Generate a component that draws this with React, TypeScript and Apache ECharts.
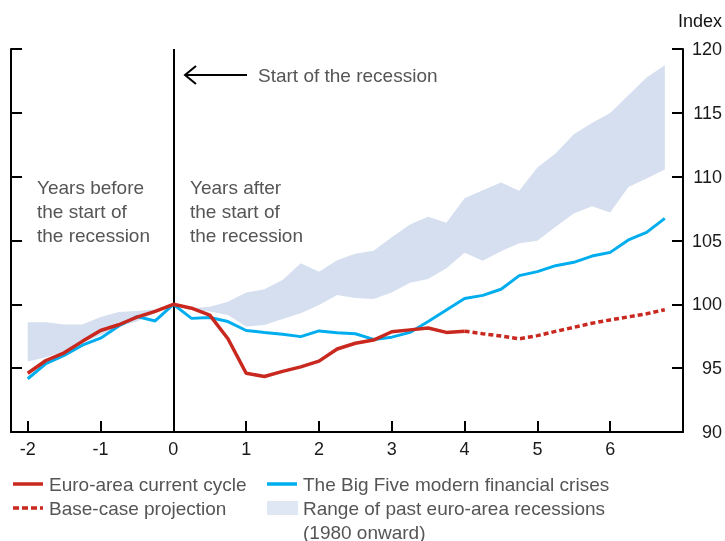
import React, { useEffect, useRef } from 'react';
import * as echarts from 'echarts';

const quarters = [-2, -1.75, -1.5, -1.25, -1, -0.75, -0.5, -0.25, 0, 0.25, 0.5, 0.75, 1, 1.25, 1.5, 1.75, 2, 2.25, 2.5, 2.75, 3, 3.25, 3.5, 3.75, 4, 4.25, 4.5, 4.75, 5, 5.25, 5.5, 5.75, 6, 6.25, 6.5, 6.75];

const xTickValues = [-2, -1, 0, 1, 2, 3, 4, 5, 6];

// Euro-area current cycle, -2 .. 4
const euroActual = [94.6, 95.6, 96.2, 97.1, 97.95, 98.4, 99.0, 99.45, 100, 99.7, 99.15, 97.3, 94.6, 94.35, 94.75, 95.1, 95.55, 96.5, 96.95, 97.2, 97.85, 98.0, 98.15, 97.8, 97.9];
// Base-case projection, 4 .. 6.75
const projection = [97.9, 97.7, 97.52, 97.3, 97.55, 97.88, 98.2, 98.52, 98.78, 99.02, 99.26, 99.58];
// The Big Five modern financial crises
const bigFive = [94.17, 95.35, 96.0, 96.8, 97.35, 98.3, 99.05, 98.7, 100, 98.9, 98.97, 98.65, 97.95, 97.8, 97.66, 97.47, 97.92, 97.78, 97.7, 97.25, 97.43, 97.8, 98.65, 99.55, 100.45, 100.7, 101.18, 102.25, 102.56, 103.03, 103.29, 103.78, 104.07, 105.04, 105.64, 106.73];
// Range of past euro-area recessions
const bandLow = [95.52, 95.86, 96.3, 96.96, 97.6, 98.26, 98.65, 99.3, 100, 99.56, 99.43, 99.17, 98.26, 98.39, 98.85, 99.3, 99.95, 100.74, 100.5, 100.42, 100.92, 101.7, 101.99, 102.82, 104.04, 103.42, 104.15, 104.78, 104.98, 106.08, 107.12, 107.69, 107.2, 109.2, 109.86, 110.56];
const bandHigh = [98.6, 98.6, 98.42, 98.42, 99.0, 99.4, 99.47, 99.62, 100, 99.69, 99.82, 100.21, 100.92, 101.18, 101.9, 103.21, 102.56, 103.45, 103.97, 104.2, 105.25, 106.26, 106.86, 106.39, 108.3, 108.94, 109.55, 108.89, 110.72, 111.81, 113.32, 114.2, 114.99, 116.37, 117.76, 118.72];

const RED = '#c9281f';
const BLUE = '#00aeef';
const BAND = '#d5dff0';
const GREY = '#555555';
const FONT = '"Liberation Sans", Arial, sans-serif';
const FS = 19;

export default function App() {
  const ref = useRef<HTMLDivElement>(null);
  useEffect(() => {
    if (!ref.current) return;
    const chart = echarts.init(ref.current, undefined, { renderer: 'svg' });
    const actualX = quarters.slice(0, euroActual.length);
    const projX = quarters.slice(quarters.length - projection.length);
    const axisCommon = {
      type: 'value',
      min: 90,
      max: 120,
      interval: 5,
      axisLine: { show: true, onZero: false, lineStyle: { color: '#000', width: 2 } },
      axisTick: { show: true, inside: true, length: 11, lineStyle: { color: '#000', width: 2 } },
      splitLine: { show: false },
    };
    const option: any = {
      animation: false,
      grid: { left: 11, right: 42, top: 49, bottom: 109, containLabel: false },
      xAxis: {
        type: 'value',
        min: -2.23,
        max: 7,
        axisLine: { show: true, onZero: false, lineStyle: { color: '#000', width: 2 } },
        axisTick: { show: true, inside: true, length: 11, customValues: xTickValues, lineStyle: { color: '#000', width: 2 } },
        axisLabel: { show: true, customValues: xTickValues, margin: 8, color: '#1a1a1a', fontSize: 18, fontFamily: FONT },
        splitLine: { show: false },
      },
      yAxis: [
        {
          ...axisCommon,
          position: 'right',
          axisLabel: { show: true, align: 'right', margin: 39, color: '#1a1a1a', fontSize: 18, fontFamily: FONT },
        },
        {
          ...axisCommon,
          position: 'left',
          axisLabel: { show: false },
        },
      ],
      series: [
        {
          type: 'custom',
          name: 'Range of past euro-area recessions (1980 onward)',
          data: [[0]],
          silent: true,
          z: 1,
          renderItem: (params: any, api: any) => {
            const upper = quarters.map((q, i) => api.coord([q, bandHigh[i]]));
            const lower = quarters.map((q, i) => api.coord([q, bandLow[i]])).reverse();
            return {
              type: 'polygon',
              shape: { points: upper.concat(lower) },
              style: { fill: BAND, stroke: null },
            };
          },
        },
        {
          type: 'line',
          name: 'The Big Five modern financial crises',
          data: quarters.map((q, i) => [q, bigFive[i]]),
          symbol: 'none',
          lineStyle: { color: BLUE, width: 3 },
          z: 3,
          markLine: {
            silent: true,
            symbol: 'none',
            label: { show: false },
            lineStyle: { color: '#000', width: 2, type: 'solid' },
            data: [{ xAxis: 0 }],
            z: 2,
          },
        },
        {
          type: 'line',
          name: 'Euro-area current cycle',
          data: actualX.map((q, i) => [q, euroActual[i]]),
          symbol: 'none',
          lineStyle: { color: RED, width: 3.5 },
          z: 4,
        },
        {
          type: 'line',
          name: 'Base-case projection',
          data: projX.map((q, i) => [q, projection[i]]),
          symbol: 'none',
          lineStyle: { color: RED, width: 3.5, type: [5, 3] },
          z: 4,
        },
      ],
      graphic: [
        { type: 'text', x: 722, y: 21, style: { text: 'Index', fill: '#111', fontSize: 18, fontFamily: FONT, align: 'right', verticalAlign: 'middle' } },
        { type: 'line', shape: { x1: 185, y1: 75, x2: 247, y2: 75 }, style: { stroke: '#000', lineWidth: 2 } },
        { type: 'polyline', shape: { points: [[196, 66], [185, 75], [196, 84]] }, style: { stroke: '#000', lineWidth: 2, fill: null } },
        { type: 'text', x: 258, y: 75, style: { text: 'Start of the recession', fill: GREY, fontSize: FS, fontFamily: FONT, verticalAlign: 'middle' } },
        { type: 'text', x: 37, y: 175, style: { text: 'Years before\nthe start of\nthe recession', fill: GREY, fontSize: FS, lineHeight: 24, fontFamily: FONT, verticalAlign: 'top' } },
        { type: 'text', x: 190, y: 175, style: { text: 'Years after\nthe start of\nthe recession', fill: GREY, fontSize: FS, lineHeight: 24, fontFamily: FONT, verticalAlign: 'top' } },
        // legend
        { type: 'line', shape: { x1: 13, y1: 484, x2: 43, y2: 484 }, style: { stroke: RED, lineWidth: 3.5 } },
        { type: 'text', x: 49, y: 484, style: { text: 'Euro-area current cycle', fill: GREY, fontSize: FS, fontFamily: FONT, verticalAlign: 'middle' } },
        { type: 'line', shape: { x1: 13, y1: 508, x2: 43, y2: 508 }, style: { stroke: RED, lineWidth: 3.5, lineDash: [6, 3] } },
        { type: 'text', x: 49, y: 508, style: { text: 'Base-case projection', fill: GREY, fontSize: FS, fontFamily: FONT, verticalAlign: 'middle' } },
        { type: 'line', shape: { x1: 267, y1: 484, x2: 297, y2: 484 }, style: { stroke: BLUE, lineWidth: 3.5 } },
        { type: 'text', x: 303, y: 484, style: { text: 'The Big Five modern financial crises', fill: GREY, fontSize: FS, fontFamily: FONT, verticalAlign: 'middle' } },
        { type: 'rect', shape: { x: 267, y: 501, width: 31, height: 14 }, style: { fill: '#dfe7f4' } },
        { type: 'text', x: 303, y: 496, style: { text: 'Range of past euro-area recessions\n(1980 onward)', fill: GREY, fontSize: FS, lineHeight: 24, fontFamily: FONT, verticalAlign: 'top' } },
      ],
    };
    chart.setOption(option);
    return () => chart.dispose();
  }, []);
  return <div ref={ref} style={{ position: 'fixed', left: 0, top: 0, width: 725, height: 541 }} />;
}
